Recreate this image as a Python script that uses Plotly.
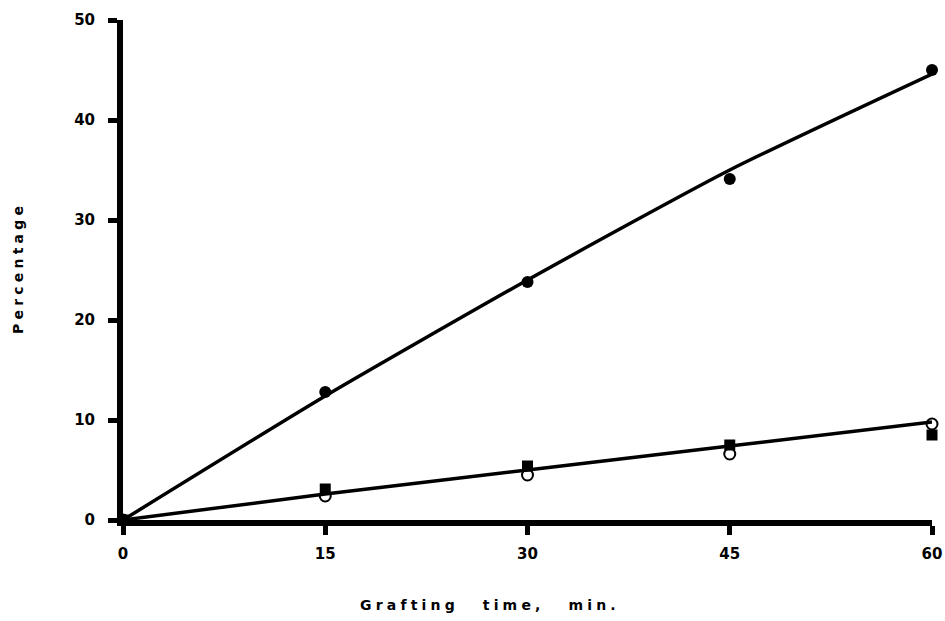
import plotly.graph_objects as go

# Data
time_min = [0, 15, 30, 45, 60]
filled_circles = [0, 12.8, 23.8, 34.1, 45.0]
filled_squares = [0, 3.1, 5.4, 7.5, 8.5]
open_circles = [0, 2.4, 4.5, 6.6, 9.6]
fit_upper = [0, 12.4, 24.0, 35.0, 44.6]
fit_lower = [0, 2.6, 5.0, 7.4, 9.8]

x_ticks = [0, 15, 30, 45, 60]
y_ticks = [0, 10, 20, 30, 40, 50]

LS = "\u2009\u200a"
def spaced(s, word_gap="\u2003\u2003"):
    words = s.split(" ")
    return word_gap.join(LS.join(list(w)) for w in words)

fig = go.Figure()
fig.add_trace(go.Scatter(x=time_min, y=fit_upper, mode="lines",
                         line=dict(color="black", width=3.5, shape="spline", smoothing=0.6),
                         cliponaxis=False, showlegend=False, hoverinfo="skip"))
fig.add_trace(go.Scatter(x=time_min, y=fit_lower, mode="lines",
                         line=dict(color="black", width=3.5, shape="spline", smoothing=0.6),
                         cliponaxis=False, showlegend=False, hoverinfo="skip"))
fig.add_trace(go.Scatter(x=time_min, y=filled_circles, mode="markers",
                         marker=dict(symbol="circle", size=12, color="black"),
                         cliponaxis=False, showlegend=False))
fig.add_trace(go.Scatter(x=time_min, y=filled_squares, mode="markers",
                         marker=dict(symbol="square", size=11, color="black"),
                         cliponaxis=False, showlegend=False))
fig.add_trace(go.Scatter(x=time_min, y=open_circles, mode="markers",
                         marker=dict(symbol="circle-open", size=11, color="black",
                                     line=dict(width=2, color="black")),
                         cliponaxis=False, showlegend=False))

FONT = "DejaVu Sans, Arial, sans-serif"

fig.update_layout(
    width=945, height=621,
    margin=dict(l=123, r=13, t=20, b=101),
    paper_bgcolor="white", plot_bgcolor="white",
    font=dict(family=FONT, size=15, color="black"),
    xaxis=dict(range=[0, 60], tickvals=x_ticks, ticktext=[f"<b>{v}</b>" for v in x_ticks],
               showline=True, linewidth=6, linecolor="black", mirror=False,
               ticks="outside", ticklen=9, tickwidth=5, tickcolor="black",
               ticklabelstandoff=6, automargin=False,
               showgrid=False, zeroline=False,
               tickfont=dict(size=15)),
    yaxis=dict(range=[0, 50], tickvals=y_ticks, ticktext=[f"<b>{v}</b>" for v in y_ticks],
               showline=True, linewidth=6, linecolor="black",
               ticks="outside", ticklen=9, tickwidth=5, tickcolor="black",
               ticklabelstandoff=10, automargin=False,
               showgrid=False, zeroline=False,
               title=dict(text="<b>" + spaced("Percentage") + "</b>",
                          standoff=49, font=dict(size=14)),
               tickfont=dict(size=15)),
)

fig.add_annotation(text="<b>" + spaced("Grafting time, min.") + "</b>",
                   xref="paper", yref="paper", x=0.451, y=-0.17,
                   xanchor="center", yanchor="middle", showarrow=False,
                   font=dict(family=FONT, size=14, color="black"))

fig.write_html("out.html")
